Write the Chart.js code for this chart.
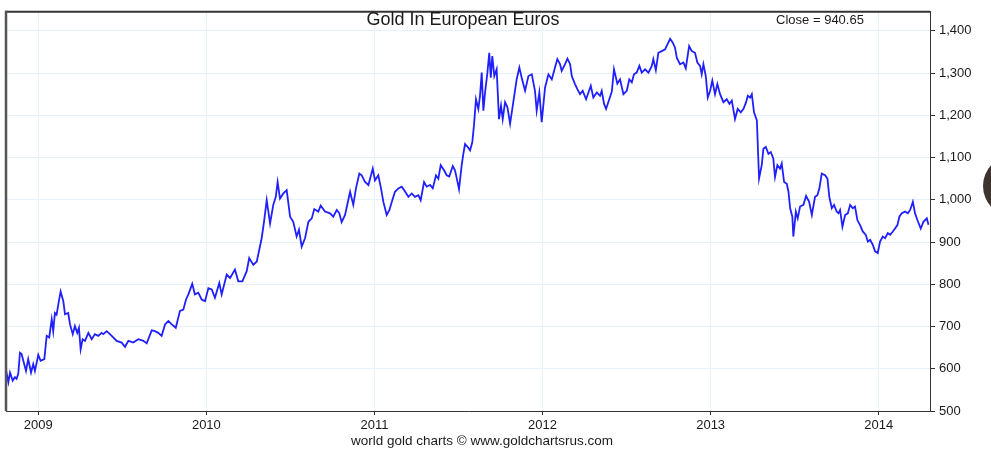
<!DOCTYPE html>
<html>
<head>
<meta charset="utf-8">
<script src="https://cdn.jsdelivr.net/npm/chart.js@4"></script>
<style>
html, body { margin: 0; padding: 0; background: #fff; overflow: hidden; }
canvas { display: block; }
</style>
</head>
<body>
<canvas id="chart" width="991" height="449"></canvas>
<script>
// decimal years
const dates = [
  2008.808,2008.822,2008.832,2008.848,2008.861,2008.871,2008.881,2008.891,2008.901,2008.911,
  2008.927,2008.940,2008.957,2008.970,2008.980,2009.000,2009.014,2009.036,2009.050,2009.065,
  2009.080,2009.089,2009.099,2009.109,2009.119,2009.133,2009.149,2009.159,2009.178,2009.189,
  2009.205,2009.218,2009.232,2009.242,2009.252,2009.264,2009.278,2009.298,2009.318,2009.337,
  2009.357,2009.377,2009.387,2009.407,2009.437,2009.466,2009.496,2009.516,2009.536,2009.565,
  2009.595,2009.625,2009.645,2009.675,2009.694,2009.714,2009.734,2009.754,2009.774,2009.794,
  2009.818,2009.843,2009.863,2009.879,2009.893,2009.916,2009.932,2009.952,2009.972,2009.992,
  2010.012,2010.032,2010.051,2010.077,2010.091,2010.121,2010.141,2010.170,2010.190,2010.214,
  2010.240,2010.255,2010.279,2010.300,2010.329,2010.343,2010.359,2010.379,2010.398,2010.413,
  2010.424,2010.438,2010.458,2010.478,2010.498,2010.517,2010.537,2010.551,2010.567,2010.587,
  2010.607,2010.627,2010.642,2010.666,2010.680,2010.706,2010.736,2010.755,2010.776,2010.791,
  2010.805,2010.825,2010.855,2010.874,2010.890,2010.910,2010.924,2010.944,2010.964,2010.974,
  2010.990,
  2011.003,2011.023,2011.039,2011.053,2011.073,2011.089,2011.103,2011.122,2011.142,2011.162,
  2011.176,2011.202,2011.222,2011.241,2011.261,2011.275,2011.295,2011.311,2011.331,2011.347,
  2011.366,2011.380,2011.394,2011.414,2011.430,2011.445,2011.466,2011.479,2011.490,2011.503,
  2011.519,2011.529,2011.539,2011.555,2011.569,2011.582,2011.592,2011.604,2011.618,2011.628,
  2011.638,2011.648,2011.658,2011.672,2011.683,2011.692,2011.701,2011.713,2011.727,2011.741,
  2011.753,2011.763,2011.777,2011.791,2011.807,2011.826,2011.846,2011.862,2011.876,2011.896,
  2011.916,2011.936,2011.955,2011.965,2011.981,2011.995,
  2012.015,2012.035,2012.055,2012.074,2012.088,2012.104,2012.114,2012.134,2012.148,2012.164,
  2012.174,2012.193,2012.207,2012.223,2012.239,2012.259,2012.273,2012.287,2012.302,2012.323,
  2012.342,2012.352,2012.366,2012.378,2012.397,2012.412,2012.425,2012.445,2012.461,2012.481,
  2012.501,2012.516,2012.531,2012.544,2012.560,2012.576,2012.590,2012.610,2012.630,2012.650,
  2012.659,2012.674,2012.689,2012.709,2012.729,2012.743,2012.759,2012.775,2012.788,2012.799,
  2012.818,2012.838,2012.852,2012.872,2012.888,2012.907,2012.921,2012.937,2012.947,2012.957,
  2012.971,2012.983,2012.997,
  2013.010,2013.026,2013.040,2013.056,2013.076,2013.096,2013.112,2013.126,2013.145,2013.161,
  2013.179,2013.195,2013.211,2013.221,2013.235,2013.245,2013.258,2013.275,2013.288,2013.304,
  2013.314,2013.328,2013.344,2013.358,2013.373,2013.383,2013.397,2013.413,2013.423,2013.437,
  2013.453,2013.463,2013.473,2013.486,2013.492,2013.507,2013.518,2013.532,2013.552,2013.568,
  2013.586,2013.602,2013.621,2013.635,2013.647,2013.661,2013.681,2013.695,2013.706,2013.721,
  2013.734,2013.750,2013.760,2013.770,2013.784,2013.800,2013.816,2013.830,2013.846,2013.859,
  2013.873,2013.889,2013.905,2013.923,2013.935,2013.949,2013.965,2013.978,2013.994,
  2014.008,2014.024,2014.038,2014.054,2014.068,2014.084,2014.097,2014.111,2014.123,2014.137,
  2014.157,2014.173,2014.187,2014.203,2014.216,2014.230,2014.250,2014.266,2014.286,2014.296
];

// gold price in euros
const closes = [
  597,568,591,572,580,576,588,638,635,619,
  595,623,591,611,595,633,619,623,678,674,
  717,689,732,728,752,783,760,729,732,705,
  682,701,685,697,646,670,666,685,670,682,
  678,685,682,689,678,666,662,652,666,662,
  670,666,660,691,689,685,678,705,713,705,
  697,737,740,764,776,801,776,780,764,760,
  791,788,768,803,776,823,815,835,807,807,
  831,862,846,854,909,948,999,944,988,1007,
  1042,1003,1015,1023,960,948,913,929,889,909,
  948,956,978,972,986,972,968,960,976,968,
  947,964,1019,988,1027,1062,1058,1042,1035,1050,
  1074,
  1046,1058,1027,995,964,976,995,1019,1027,1031,
  1023,1007,1015,1007,1011,999,1042,1031,1035,1027,
  1058,1050,1082,1070,1058,1055,1080,1070,1050,1025,
  1082,1109,1132,1125,1117,1136,1176,1238,1215,1246,
  1301,1211,1254,1301,1348,1289,1340,1293,1309,1191,
  1223,1191,1231,1219,1180,1231,1285,1313,1289,1258,
  1293,1297,1258,1211,1254,1184,
  1266,1297,1285,1313,1333,1321,1305,1321,1334,1321,
  1293,1274,1262,1250,1258,1238,1254,1270,1242,1254,
  1246,1258,1227,1215,1238,1256,1309,1275,1285,1250,
  1258,1285,1278,1297,1301,1317,1301,1309,1301,1317,
  1333,1307,1348,1352,1356,1368,1381,1372,1360,1336,
  1321,1325,1311,1364,1352,1348,1325,1317,1297,1321,
  1293,1242,1258,
  1282,1250,1274,1250,1231,1238,1227,1235,1191,1215,
  1207,1215,1231,1246,1242,1250,1207,1188,1050,1082,
  1121,1125,1109,1113,1097,1054,1082,1074,1086,1042,
  1038,1019,980,960,913,972,956,984,988,1009,
  995,964,1007,1011,1027,1062,1058,1050,1007,980,
  988,972,968,976,936,964,968,988,980,984,
  952,940,925,917,901,905,893,878,874,
  901,913,909,921,917,925,932,940,960,968,
  972,968,976,995,968,952,932,948,956,941
];

const yearTicks = [2009, 2010, 2011, 2012, 2013, 2014];
const priceTicks = [500, 600, 700, 800, 900, 1000, 1100, 1200, 1300, 1400];

const titleText = 'Gold In European Euros';
const closeText = 'Close = 940.65';
const creditText = 'world gold charts \u00A9 www.goldchartsrus.com';

if (dates.length !== closes.length) console.warn('length mismatch', dates.length, closes.length);
const points = dates.map((d, i) => ({ x: d, y: closes[i] }));

const FONT = '"Liberation Sans", Arial, sans-serif';

// frame, texts and the dark blob at the right edge
const decor = {
    id: 'decor',
    afterDraw(chart) {
        const ctx = chart.ctx;
        const a = chart.chartArea;
        ctx.save();
        ctx.strokeStyle = '#333';
        ctx.lineWidth = 2;
        ctx.beginPath();
        ctx.moveTo(a.left - 1, a.top);
        ctx.lineTo(a.right, a.top);
        ctx.stroke();
        ctx.strokeStyle = '#555';
        ctx.lineWidth = 2.5;
        ctx.beginPath();
        ctx.moveTo(a.left, a.top - 1);
        ctx.lineTo(a.left, a.bottom);
        ctx.stroke();

        ctx.fillStyle = '#1a1a1a';
        ctx.textAlign = 'center';
        ctx.textBaseline = 'alphabetic';
        ctx.font = '18px ' + FONT;
        ctx.fillText(titleText, 463, 25);
        ctx.font = '13px ' + FONT;
        ctx.fillText(closeText, 820, 24);
        ctx.font = '13.5px ' + FONT;
        ctx.fillText(creditText, 482, 445);

        ctx.fillStyle = '#3d3430';
        ctx.beginPath();
        ctx.arc(1014, 186, 31, 0, Math.PI * 2);
        ctx.fill();
        ctx.restore();
    }
};

new Chart(document.getElementById('chart'), {
    type: 'line',
    data: {
        datasets: [{
            data: points,
            borderColor: '#2020ff',
            borderWidth: 1.8,
            pointRadius: 0,
            tension: 0,
            fill: false
        }]
    },
    options: {
        responsive: false,
        animation: false,
        layout: { padding: { left: 6, top: 10, right: 0, bottom: 0 } },
        plugins: { legend: { display: false }, tooltip: { enabled: false } },
        scales: {
            x: {
                type: 'linear',
                min: 2008.808,
                max: 2014.305,
                afterBuildTicks: s => { s.ticks = yearTicks.map(v => ({ value: v })); },
                afterFit: s => { s.height = 38; },
                grid: { color: '#e4f1fb', tickColor: '#333', tickLength: 4 },
                border: { color: '#333', width: 1 },
                ticks: {
                    color: '#1a1a1a',
                    font: { size: 13, family: FONT },
                    padding: 3,
                    maxRotation: 0,
                    callback: v => String(v)
                }
            },
            y: {
                position: 'right',
                min: 500,
                max: 1445,
                afterBuildTicks: s => { s.ticks = priceTicks.map(v => ({ value: v })); },
                afterFit: s => { s.width = 61; },
                grid: { color: '#e4f1fb', tickColor: '#333', tickLength: 5 },
                border: { color: '#333', width: 1 },
                ticks: {
                    color: '#1a1a1a',
                    font: { size: 13, family: FONT },
                    padding: 4,
                    callback: v => v.toLocaleString('en-US')
                }
            }
        }
    },
    plugins: [decor]
});
</script>
</body>
</html>
